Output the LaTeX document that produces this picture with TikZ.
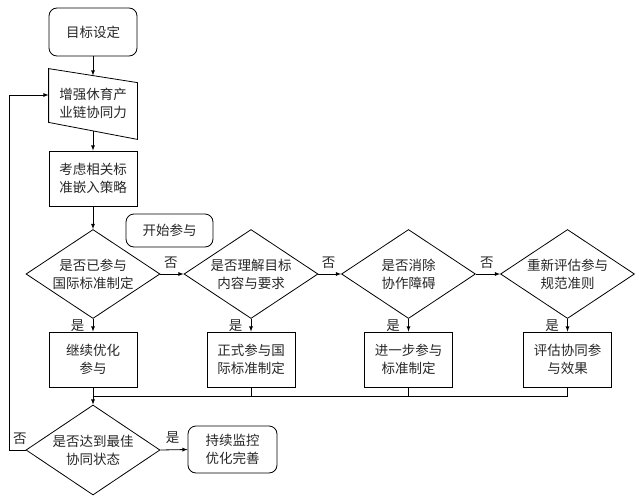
\documentclass[tikz,border=0pt]{standalone}
\usepackage{fontspec}
\setmainfont{Noto Sans CJK SC}
\usetikzlibrary{arrows,shapes.geometric}

\begin{document}
\begin{tikzpicture}[x=1pt,y=-1pt,>=latex,line width=0.8pt,
	every node/.style={font=\fontsize{13.5pt}{18pt}\selectfont,text=black!85},
	box/.style={draw,minimum width=88pt,minimum height=55pt,inner sep=0pt,align=center},
	rbox/.style={draw,rounded corners=8pt,inner sep=0pt,align=center},
	dia/.style={draw,diamond,aspect=1.5,minimum width=134pt,minimum height=89pt,inner sep=0pt,align=center}]
	\useasboundingbox (0,0) rectangle (639,495);
	\node [rbox,minimum width=88pt,minimum height=48pt] (goal) at (93,32) {目标设定};
	\node [inner sep=0pt,minimum width=88pt,minimum height=50pt,align=center] (boost) at (93,103) {增强休育产\\业链协同力};
	\draw ([yshift=9pt]boost.north west) -- ([yshift=-5pt]boost.north east) -- ([yshift=-11pt]boost.south east) -- ([yshift=6pt]boost.south west) -- cycle;
	\node [box] (plan) at (93,178.5) {考虑相关标\\准嵌入策略};
	\node [rbox,minimum width=87pt,minimum height=33pt] (start) at (169.5,230.5) {开始参与};
	\node [dia] (joined) at (93,274) {是否已参与\\国际标准制定};
	\node [dia] (grasp) at (251,274) {是否理解目标\\内容与要求};
	\node [dia] (clear) at (408.5,274) {是否消除\\协作障碍};
	\node [dia] (review) at (567.5,274) {重新评估参与\\规范准则};
	\node [box] (keep) at (93,359.5) {继续优化\\参与};
	\node [box] (formal) at (251,359.5) {正式参与国\\际标准制定};
	\node [box] (further) at (408.5,359.5) {进一步参与\\标准制定};
	\node [box] (assess) at (567.5,359.5) {评估协同参\\与效果};
	\node [dia,minimum height=90pt] (best) at (93,450) {是否达到最佳\\协同状态};
	\node [rbox,minimum width=89pt,minimum height=47pt] (watch) at (232.5,449.5) {持续监控\\优化完善};
	\coordinate (bus) at (93,396);
	\coordinate (back) at (9,450);
	% main line
	\draw [->] (goal.south) -- ([yshift=2pt]boost.north);
	\draw [->] ([yshift=-2.5pt]boost.south) -- (plan.north);
	\draw [->] (plan.south) -- (joined.north);
	\draw [->] (joined.east) -- (grasp.west) node [pos=0.45,above=2pt] {否};
	\draw [->] (grasp.east) -- (clear.west) node [pos=0.45,above=2pt] {否};
	\draw [->] (clear.east) -- (review.west) node [pos=0.45,above=2pt] {否};
	\foreach \d/\b in {joined/keep,grasp/formal,clear/further,review/assess}{
		\draw [->] (\d.south) -- (\b.north) node [midway,left=5pt] {是};
	}
	% collect
	\draw [->] (keep.south) -- (best.north);
	\draw (formal.south) -- (formal.south |- bus);
	\draw (further.south) -- (further.south |- bus);
	\draw (assess.south) |- (bus);
	\draw [->] (best.east) -- (watch.west) node [pos=0.45,above=2pt] {是};
	\draw [->] (best.west) -- (back) node [pos=0.35,above=2pt] {否} |- ([yshift=8pt]boost.west);
\end{tikzpicture}
\end{document}
